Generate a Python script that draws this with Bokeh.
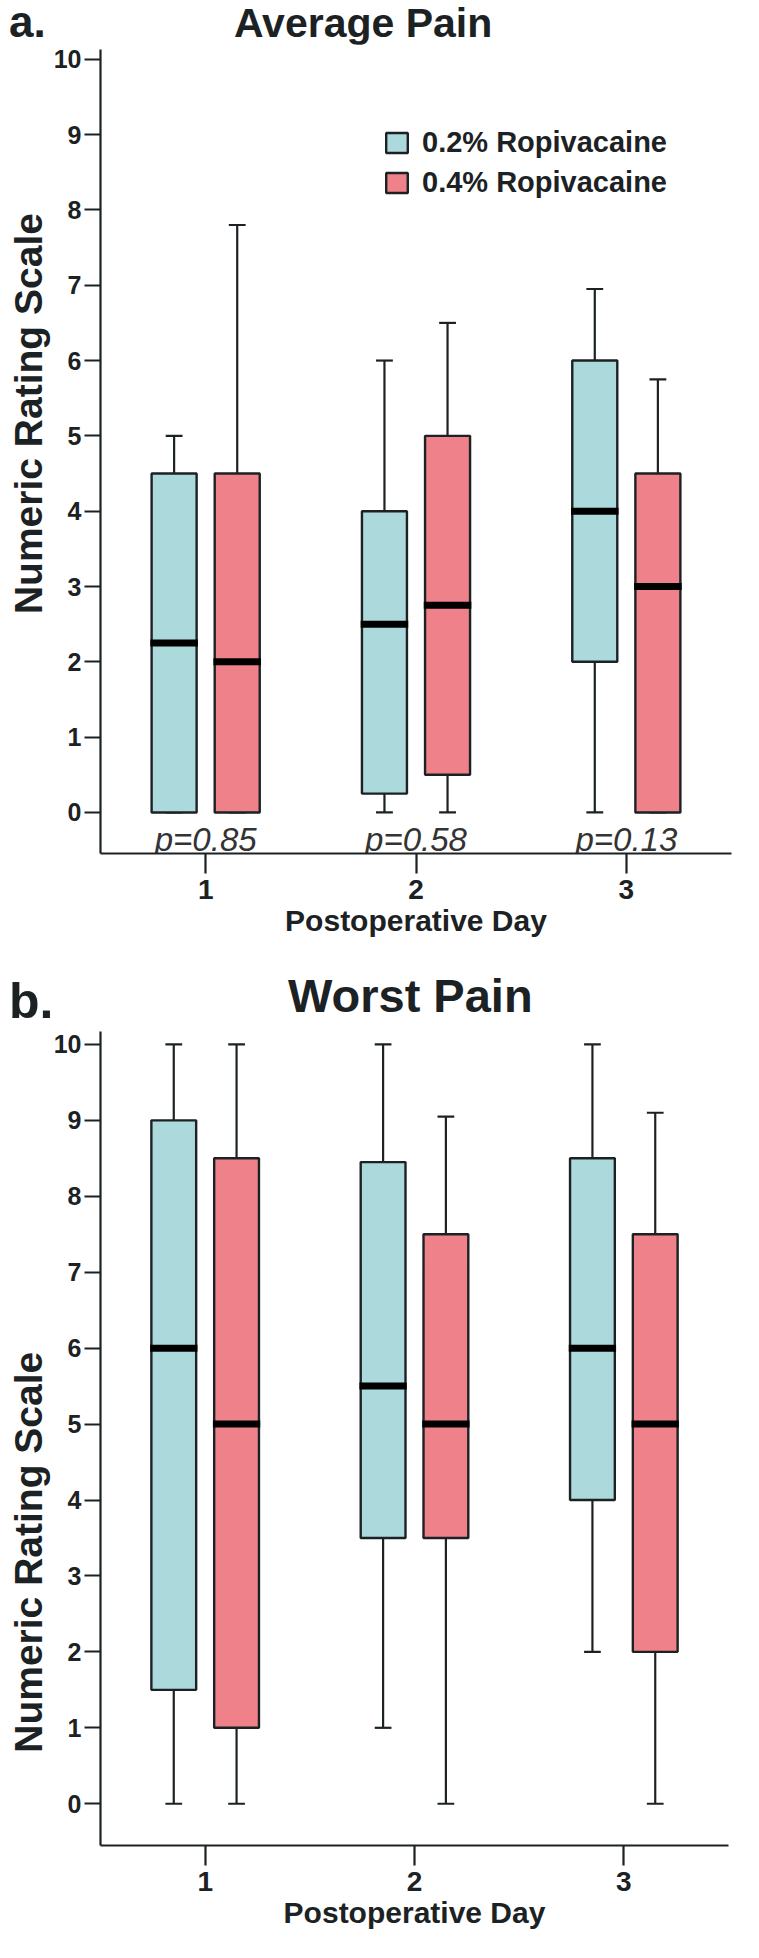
import numpy as np
from bokeh.plotting import figure
from bokeh.models import ColumnDataSource, Range1d, Legend, LegendItem, FixedTicker, Div
from bokeh.layouts import column
from bokeh.embed import file_html
from bokeh.resources import INLINE
from bokeh.core.properties import value

# ---------------- data ----------------
days = [1, 2, 3]
day_labels = ["1", "2", "3"]
groups = ["0.2% Ropivacaine", "0.4% Ropivacaine"]
colors = ["#acd9dc", "#ee8189"]
y_ticks = list(range(0, 11))

# a. Average Pain  (low whisker, q1, median, q3, high whisker) per day
avg_low_02 = [0, 0, 0]
avg_q1_02 = [0, 0.25, 2]
avg_med_02 = [2.25, 2.5, 4]
avg_q3_02 = [4.5, 4, 6]
avg_high_02 = [5, 6, 6.95]

avg_low_04 = [0, 0, 0]
avg_q1_04 = [0, 0.5, 0]
avg_med_04 = [2, 2.75, 3]
avg_q3_04 = [4.5, 5, 4.5]
avg_high_04 = [7.8, 6.5, 5.75]

p_values = ["p=0.85", "p=0.58", "p=0.13"]

# b. Worst Pain
worst_low_02 = [0, 1, 2]
worst_q1_02 = [1.5, 3.5, 4]
worst_med_02 = [6, 5.5, 6]
worst_q3_02 = [9, 8.45, 8.5]
worst_high_02 = [10, 10, 10]

worst_low_04 = [0, 0, 0]
worst_q1_04 = [1, 3.5, 2]
worst_med_04 = [5, 5, 5]
worst_q3_04 = [8.5, 7.5, 7.5]
worst_high_04 = [10, 9.05, 9.1]

FONT = "Liberation Sans"
INK = "#1c2224"
BOX_W = 0.214
OFFSET = 0.15
CAP_W = 0.08
PAGE_W = 743
NB = "\u00a0"


def make_header(height, letter, letter_left, letter_top, letter_size,
                title, title_left, title_top, title_size):
    span = ('<span style="position:absolute;left:{l}px;top:{t}px;font-size:{s}px;'
            'line-height:1;white-space:nowrap;">{txt}</span>')
    html = ('<div style="position:relative;width:{w}px;height:{h}px;'
            'font-family:\'Liberation Sans\',Arial,sans-serif;font-weight:bold;color:{c};">'
            .format(w=PAGE_W, h=height, c=INK)
            + span.format(l=letter_left, t=letter_top, s=letter_size, txt=letter)
            + span.format(l=title_left, t=title_top, s=title_size, txt=title)
            + '</div>')
    return Div(text=html, width=PAGE_W, height=height, margin=(0, 0, 0, 0))


def make_panel(series, y_start, y_end, frame_w, frame_h, b_left, b_right, b_bottom,
               ylabel, pvals=None, legend=False):
    p = figure(frame_width=frame_w, frame_height=frame_h, title=None,
               min_border_left=b_left, min_border_right=b_right,
               min_border_top=5, min_border_bottom=b_bottom,
               x_range=Range1d(0.5, 3.5), y_range=Range1d(y_start, y_end),
               output_backend="svg", toolbar_location=None,
               background_fill_color="white", border_fill_color="white")
    p.outline_line_color = None
    p.xgrid.visible = False
    p.ygrid.visible = False

    renderers = []
    for (low, q1, med, q3, high), off, col in zip(series, [-OFFSET, OFFSET], colors):
        x = np.array(days, dtype=float) + off
        src = ColumnDataSource(dict(x=x, low=low, q1=q1, med=med, q3=q3, high=high,
                                    cl=x - CAP_W / 2, cr=x + CAP_W / 2,
                                    ml=x - BOX_W / 2 - 0.006, mr=x + BOX_W / 2 + 0.006))
        p.segment("x", "q3", "x", "high", source=src, line_color=INK, line_width=2.2)
        p.segment("x", "q1", "x", "low", source=src, line_color=INK, line_width=2.2)
        p.segment("cl", "high", "cr", "high", source=src, line_color=INK, line_width=2.2)
        p.segment("cl", "low", "cr", "low", source=src, line_color=INK, line_width=2.2)
        r = p.vbar(x="x", width=BOX_W, bottom="q1", top="q3", source=src,
                   fill_color=col, line_color=INK, line_width=2.4)
        p.segment("ml", "med", "mr", "med", source=src, line_color="black", line_width=7)
        renderers.append(r)

    if pvals is not None:
        ps = ColumnDataSource(dict(x=days, y=[-0.36] * 3, t=pvals))
        p.text("x", "y", text="t", source=ps, text_align="center", text_baseline="alphabetic",
               text_font=value(FONT), text_font_style="italic", text_font_size="33px",
               text_color="#333333")

    for ax in (p.xaxis[0], p.yaxis[0]):
        ax.axis_line_color = INK
        ax.axis_line_width = 2.2
        ax.major_tick_line_color = INK
        ax.major_tick_line_width = 2.2
        ax.minor_tick_line_color = None
        ax.major_tick_in = 0
        ax.major_label_text_font = FONT
        ax.major_label_text_font_style = "bold"
        ax.major_label_text_color = INK
        ax.axis_label_text_font = FONT
        ax.axis_label_text_font_style = "bold"
        ax.axis_label_text_color = INK

    p.xaxis.ticker = FixedTicker(ticks=days)
    p.xaxis.major_label_overrides = {d: l for d, l in zip(days, day_labels)}
    p.xaxis.major_tick_out = 20
    p.xaxis.major_label_standoff = 6
    p.xaxis.major_label_text_font_size = "28px"
    p.xaxis.axis_label = "Postoperative Day"
    p.xaxis.axis_label_text_font_size = "30px"
    p.xaxis.axis_label_standoff = 2

    p.yaxis.ticker = FixedTicker(ticks=y_ticks)
    p.yaxis.major_tick_out = 16
    p.yaxis.major_label_standoff = 3
    p.yaxis.major_label_text_font_size = "25px"
    p.yaxis.axis_label = ylabel
    p.yaxis.axis_label_text_font_size = "39px"
    p.yaxis.axis_label_standoff = 1

    if legend:
        items = [LegendItem(label=g, renderers=[r]) for g, r in zip(groups, renderers)]
        lg = Legend(items=items, location=(283, frame_h - 150),
                    label_text_font=FONT, label_text_font_style="bold",
                    label_text_font_size="29px", label_text_color=INK,
                    glyph_width=27, glyph_height=25, label_height=25,
                    spacing=7, padding=0, margin=0, label_standoff=12,
                    border_line_color=None, background_fill_alpha=0)
        p.add_layout(lg, "center")
    return p


series_a = [(avg_low_02, avg_q1_02, avg_med_02, avg_q3_02, avg_high_02),
            (avg_low_04, avg_q1_04, avg_med_04, avg_q3_04, avg_high_04)]
series_b = [(worst_low_02, worst_q1_02, worst_med_02, worst_q3_02, worst_high_02),
            (worst_low_04, worst_q1_04, worst_med_04, worst_q3_04, worst_high_04)]

ylabel = "Numeric Rating Scale"
ha = make_header(44, "a.", 9, 0, 44, "Average Pain", 234, 3, 41)
pa = make_panel(series_a, -0.545, 10.13, 631, 804, 92, 20, 114,
                NB * 7 + ylabel, pvals=p_values, legend=True)
hb = make_header(59, "b.", 9, 9, 50, "Worst Pain", 288, 5, 47)
pb = make_panel(series_b, -0.55, 10.17, 628, 814, 100, 15, 97,
                ylabel + NB * 21)

layout = column(ha, pa, hb, pb, spacing=0)
open("out.html", "w").write(file_html(layout, INLINE))
